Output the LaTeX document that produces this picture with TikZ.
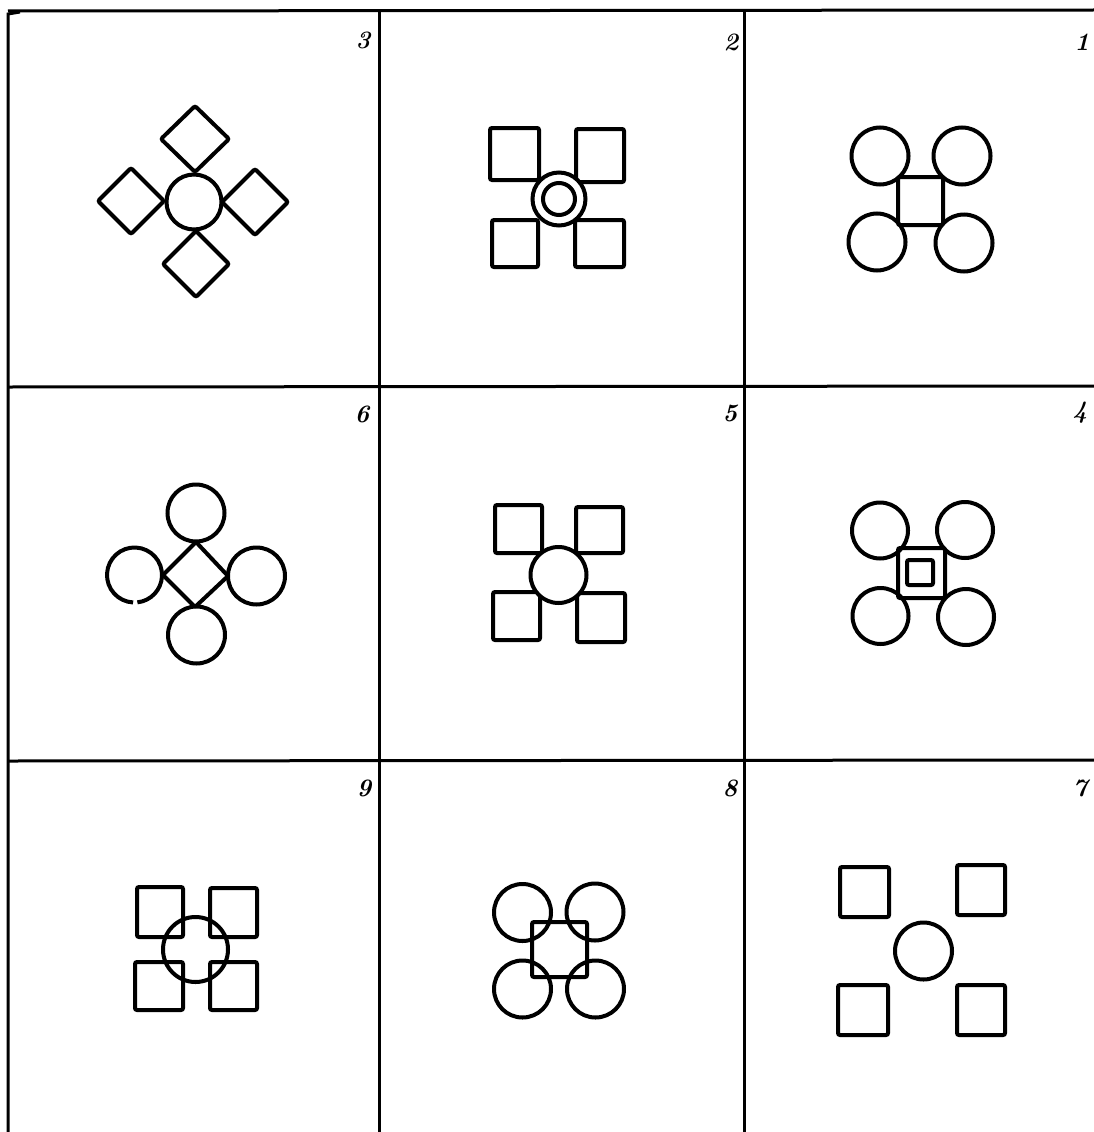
\documentclass[tikz,border=0pt]{standalone}
\begin{document}
\begin{tikzpicture}[x=1pt,y=-1pt,
  gridline/.style={line width=3pt},
  shp/.style={line width=4pt, rounded corners=2pt},
  circ/.style={line width=4pt},
  num/.style={font=\fontsize{25}{25}\selectfont\bfseries\itshape, inner sep=0pt}]
\useasboundingbox (0,0) rectangle (1094,1132);
\fill[white] (0,0) rectangle (1094,1132);
% grid
\draw[gridline] (20,12) -- (8,14) -- (8,1132);
\draw[gridline] (8,11) -- (1094,10);
\draw[gridline] (379,11) -- (379,1132);
\draw[gridline] (744,11) -- (744,1132);
\draw[gridline] (8,387) -- (1094,386);
\draw[gridline] (8,761) -- (1094,760);
% numbers
\node[num] (n3) at (363,40) {3};
\node[num] (n2) at (731,42) {2};
\node[num] (n1) at (1082,42) {1};
\node[num] (n6) at (362,414) {6};
\node[num] (n5) at (730,413) {5};
\node[num] (n4) at (1080,413) {4};
\node[num] (n9) at (364,788) {9};
\node[num] (n8) at (730,788) {8};
\node[num] (n7) at (1080,788) {7};
% cell 3
\draw[circ] (194,202) circle (27.5);
\draw[shp] (195,106) -- (229,139) -- (195,172) -- (161,139) -- cycle;
\draw[shp] (131,168) -- (164,201) -- (131,234) -- (98,201) -- cycle;
\draw[shp] (255,169) -- (288,202) -- (255,235) -- (222,202) -- cycle;
\draw[shp] (196,231) -- (229,264) -- (196,297) -- (163,264) -- cycle;
% cell 2
\draw[shp] (490,128) rectangle (539,180);
\draw[shp] (576,129) rectangle (624,182);
\draw[shp] (492,220) rectangle (538,267);
\draw[shp] (575,220) rectangle (624,267);
\draw[circ, fill=white] (559,199) circle (26.5);
\draw[circ] (559,199) circle (16);
% cell 1
\draw[shp] (898,177) rectangle (943,225);
\draw[circ] (880,156) circle (28.5);
\draw[circ] (962,156) circle (28.5);
\draw[circ] (877,242) circle (28.5);
\draw[circ] (964,243) circle (28.5);
% cell 6
\draw[shp] (196,542) -- (228,576) -- (195,607) -- (163,575) -- cycle;
\draw[circ] (196,513) circle (28.5);
\draw[circ] (134.5,575) ++(93:27.5) arc (93:444:27.5);
\draw[circ] (256.5,576) circle (28.5);
\draw[circ] (196.5,635) circle (28.5);
% cell 5
\draw[shp] (495,505) rectangle (542,553);
\draw[shp] (576,507) rectangle (623,553);
\draw[shp] (493,592) rectangle (540,640);
\draw[shp] (577,593) rectangle (625,642);
\draw[circ, fill=white] (558.5,575) circle (28);
% cell 4
\draw[shp] (898,548) rectangle (945,598);
\draw[shp] (907,560) rectangle (933,585);
\draw[circ] (880,530.5) circle (28);
\draw[circ] (965,530) circle (28);
\draw[circ] (880.5,616) circle (28);
\draw[circ] (966,617) circle (28);
% cell 9
\draw[shp] (137,887) rectangle (183,937);
\draw[shp] (210,888) rectangle (257,937);
\draw[shp] (135,962) rectangle (183,1010);
\draw[shp] (210,962) rectangle (257,1010);
\draw[circ] (195.5,949.5) circle (32.5);
% cell 8
\draw[circ] (522.5,912.5) circle (28.5);
\draw[circ] (595,912) circle (28.5);
\draw[circ] (522.5,989) circle (28.5);
\draw[circ] (595.5,989) circle (28.5);
\draw[shp] (532,922) rectangle (587,977);
% cell 7
\draw[shp] (840,867) rectangle (889,917);
\draw[shp] (957,865) rectangle (1005,915);
\draw[shp] (838,985) rectangle (888,1035);
\draw[shp] (957,985) rectangle (1005,1035);
\draw[circ] (923.5,951) circle (28.5);
\end{tikzpicture}
\end{document}
